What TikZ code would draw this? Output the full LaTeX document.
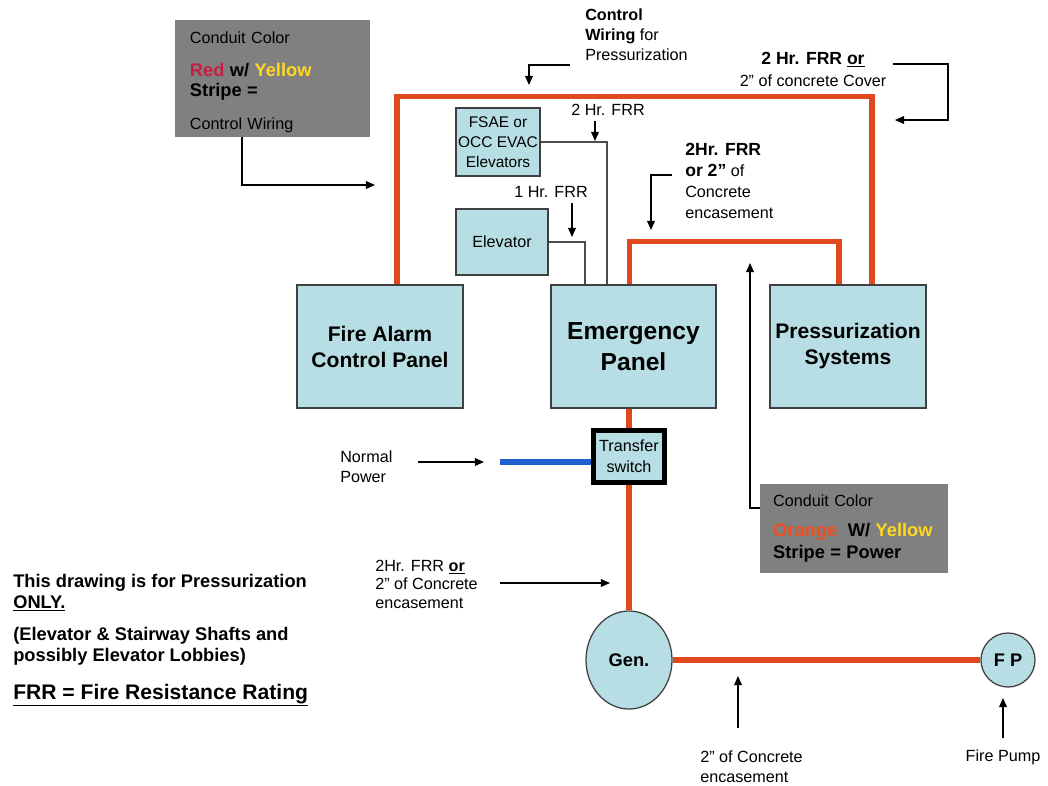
\documentclass[tikz,border=0pt]{standalone}
\usepackage{fontspec}
\setmainfont{Liberation Sans}
\usepackage{tikz}
\usetikzlibrary{arrows.meta, shapes.geometric}
\definecolor{panelblue}{RGB}{183,222,228}
\definecolor{keygray}{RGB}{128,128,128}
\definecolor{conduit}{RGB}{226,72,30}
\definecolor{normblue}{RGB}{30,95,205}
\definecolor{redtxt}{RGB}{200,30,70}
\definecolor{yellowtxt}{RGB}{255,215,30}
\definecolor{orangetxt}{RGB}{235,80,30}
\newcommand{\lbl}{\fontsize{11.5}{14.2}\selectfont}
\newcommand{\lblb}{\fontsize{12.5}{15}\selectfont\bfseries}
\newcommand{\keyb}{\fontsize{13}{14}\selectfont\bfseries}
\newcommand{\panelfont}{\fontsize{15}{18.5}\selectfont\bfseries}

\begin{document}
\begin{tikzpicture}[x=0.025cm, y=-0.025cm,
  panel/.style={draw=black!75, line width=0.9pt, fill=panelblue, align=center,
                minimum height=3.075cm, font=\panelfont},
  smallbox/.style={draw=black!75, line width=0.9pt, fill=panelblue, align=center,
                   inner sep=0pt, font=\lbl},
  keybox/.style={fill=keygray, align=left, inner xsep=0.3cm, inner ysep=0pt, font=\lbl},
  txt/.style={align=left, inner sep=0pt, font=\lbl},
  ann/.style={-{Triangle[length=6.5pt, width=5.5pt]}, line width=0.9pt},
  wire/.style={conduit, line width=3.6pt},
  thinwire/.style={black!70, line width=0.9pt},
]
  \useasboundingbox (0,0) rectangle (1048,785);

  % conduit colour keys
  \node[keybox, inner xsep=0.375cm, text width=4.125cm, minimum height=2.925cm] (cbox1) at (272.5,78.5)
    {\rule{0pt}{14pt}Conduit Color\\[9pt]
     {\keyb\textcolor{redtxt}{Red} w/ \textcolor{yellowtxt}{Yellow}}\\
     {\keyb Stripe =}\\[9.5pt]
     Control Wiring};
  \node[keybox, inner xsep=0.33cm, text width=4.04cm, minimum height=2.225cm] (cbox2) at (854,528.5)
    {Conduit Color\\[7.5pt]
     {\keyb\textcolor{orangetxt}{Orange}\ \ W/ \textcolor{yellowtxt}{Yellow}}\\[1.5pt]
     {\keyb Stripe = Power}};

  % equipment
  \node[panel, minimum width=4.15cm] (facp) at (380,346.5) {Fire Alarm\\Control Panel};
  \node[panel, minimum width=4.125cm, font=\fontsize{17.5}{22}\selectfont\bfseries]
    (ep) at (633.5,346.5) {Emergency\\Panel};
  \node[panel, minimum width=3.9cm] (press) at (848,346.5) {Pressurization\\Systems};
  \node[smallbox, minimum width=2.1cm, minimum height=1.7cm, font=\fontsize{11}{14.2}\selectfont]
    (fsae) at (498,142) {FSAE or\\OCC EVAC\\Elevators};
  \node[smallbox, minimum width=2.3cm, minimum height=1.65cm] (elev) at (502,242) {Elevator};
  \node[smallbox, draw=black, line width=3.5pt, minimum width=1.775cm, minimum height=1.3cm,
        font=\fontsize{11.5}{15}\selectfont] (ts) at (629,456.5) {Transfer\\switch};
  \node[ellipse, draw=black!75, line width=0.9pt, fill=panelblue, minimum width=2.15cm,
        minimum height=2.45cm, inner sep=0pt, font=\keyb] (gen) at (629,660) {Gen.};
  \node[circle, draw=black!75, line width=0.9pt, fill=panelblue, minimum size=1.35cm,
        inner sep=0pt, font=\keyb] (fp) at (1008,660) {F P};

  % conduits
  \draw[wire] ([xshift=0.425cm]facp.north) -- ++(0,-188) -| ([xshift=0.6cm]press.north);
  \draw[wire] ([xshift=-0.1cm]ep.north) -- ++(0,-43) -| ([xshift=-0.225cm]press.north);
  \draw[wire] (ts.north) -- (ts.north |- ep.south);
  \draw[wire] (ts.south) -- (ts.south |- gen.north);
  \draw[wire] (gen.east) -- (fp.west);
  \coordinate (normend) at (500,462);
  \draw[normblue, line width=3.6pt] (normend) -- (normend -| ts.west);
  \draw[thinwire] (fsae.east) -| ([xshift=-0.6625cm]ep.north);
  \draw[thinwire] (elev.east) -| ([xshift=-1.21cm]ep.north);

  % labels
  \node[txt, anchor=west] (cwlbl) at (585,35) {\textbf{Control}\\\textbf{Wiring} for\\Pressurization};
  \node[txt, align=center] (coverlbl) at (813,69) {{\lblb 2 Hr. FRR \underline{or}}\\[1.4pt]2” of concrete Cover};
  \node[txt] (frr2lbl) at (608,110) {2 Hr. FRR};
  \node[txt] (frr1lbl) at (551,192) {1 Hr. FRR};
  \node[txt, anchor=west, font=\fontsize{11.5}{15}\selectfont] (encllbl) at (685,181)
    {{\lblb 2Hr. FRR}\\{\lblb or 2”} of\\Concrete\\encasement};
  \node[txt, anchor=west] (normlbl) at (340,467) {Normal\\Power};
  \node[txt, anchor=west, font=\fontsize{11.5}{13.2}\selectfont] (frrlowlbl) at (375,584)
    {2Hr. FRR \textbf{\underline{or}}\\2” of Concrete\\encasement};
  \node[txt, anchor=west] (concbotlbl) at (700,767) {2” of Concrete\\encasement};
  \node[txt] (fplbl) at (1003,757) {Fire Pump};

  \node[txt, anchor=west, font=\fontsize{13}{15}\selectfont\bfseries] (note1) at (13,592.5)
    {This drawing is for Pressurization\\\underline{ONLY.}};
  \node[txt, anchor=west, font=\fontsize{13}{15}\selectfont\bfseries] (note2) at (13,646.5)
    {(Elevator \& Stairway Shafts and\\possibly Elevator Lobbies)};
  \node[txt, anchor=west, font=\fontsize{15}{18}\selectfont\bfseries] (note3) at (13,695)
    {\underline{FRR = Fire Resistance Rating}};

  % pointer arrows
  \coordinate (key1from) at (242,137);  \coordinate (key1to) at (375,185);
  \coordinate (cwfrom) at (570,65);     \coordinate (cwto) at (529,85);
  \coordinate (coverfrom) at (893,64);  \coordinate (coverto) at (895,120);
  \coordinate (frr2from) at (595,121);  \coordinate (frr2to) at (595,141);
  \coordinate (frr1from) at (572,203);  \coordinate (frr1to) at (572,237);
  \coordinate (enclfrom) at (672,175);  \coordinate (enclto) at (651,230);
  \coordinate (key2from) at (760,508);  \coordinate (key2to) at (750,263);
  \coordinate (normfrom) at (418,462);  \coordinate (normto) at (484,462);
  \coordinate (frrlowfrom) at (500,583); \coordinate (frrlowto) at (610,583);
  \coordinate (concfrom) at (738,728);  \coordinate (concto) at (738,676);
  \coordinate (fpfrom) at (1003,738);   \coordinate (fpto) at (1003,698);

  \draw[ann] (key1from) |- (key1to);
  \draw[ann] (cwfrom) -| (cwto);
  \draw[ann] (coverfrom) -- ++(55,0) |- (coverto);
  \draw[ann] (frr2from) -- (frr2to);
  \draw[ann] (frr1from) -- (frr1to);
  \draw[ann] (enclfrom) -| (enclto);
  \draw[ann] (key2from) -| (key2to);
  \draw[ann] (normfrom) -- (normto);
  \draw[ann] (frrlowfrom) -- (frrlowto);
  \draw[ann] (concfrom) -- (concto);
  \draw[ann] (fpfrom) -- (fpto);
\end{tikzpicture}
\end{document}
